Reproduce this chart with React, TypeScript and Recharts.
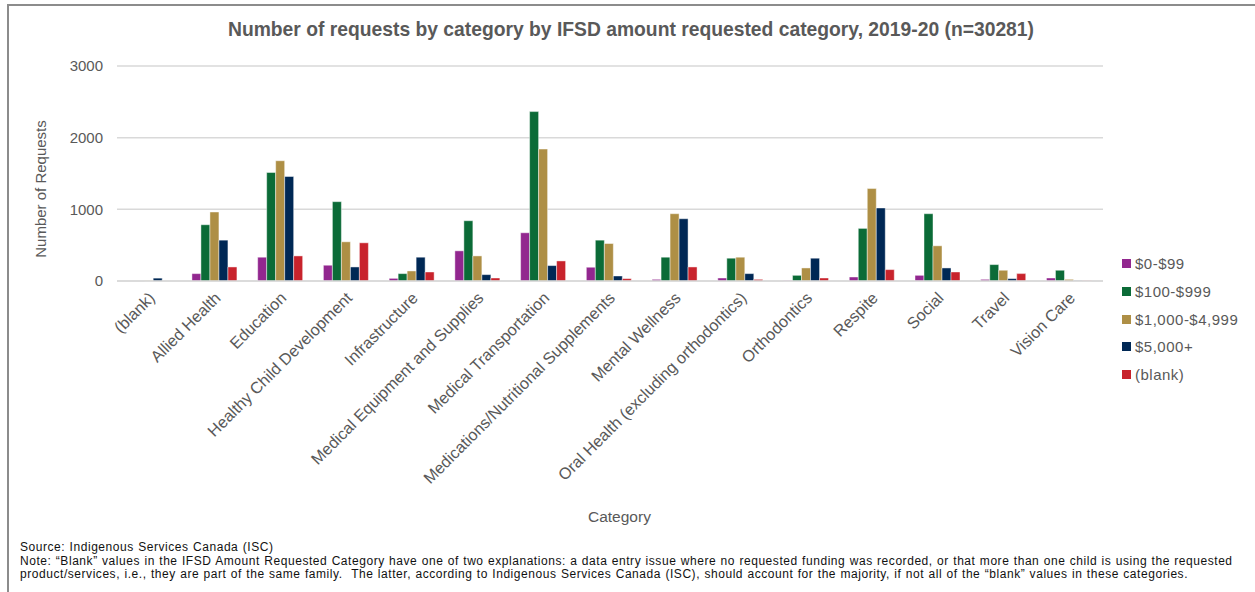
import { BarChart, Bar, XAxis, YAxis, CartesianGrid } from "recharts";

const categories = [
  "(blank)",
  "Allied Health",
  "Education",
  "Healthy Child Development",
  "Infrastructure",
  "Medical Equipment and Supplies",
  "Medical Transportation",
  "Medications/Nutritional Supplements",
  "Mental Wellness",
  "Oral Health (excluding orthodontics)",
  "Orthodontics",
  "Respite",
  "Social",
  "Travel",
  "Vision Care",
];

const amt0to99 = [0, 103, 332, 220, 37, 421, 673, 192, 23, 42, 5, 56, 79, 23, 42];
const amt100to999 = [0, 785, 1514, 1107, 103, 841, 2364, 570, 332, 318, 79, 734, 939, 229, 150];
const amt1000to4999 = [5, 963, 1678, 547, 140, 350, 1841, 523, 939, 332, 182, 1290, 491, 150, 23];
const amt5000plus = [40, 570, 1458, 196, 332, 89, 215, 70, 869, 103, 318, 1019, 182, 33, 5];
const amtBlank = [0, 196, 350, 533, 126, 42, 280, 33, 196, 23, 42, 159, 126, 103, 5];

const yTicks = [0, 1000, 2000, 3000];

const series = [
  { key: "a", name: "$0-$99", color: "#92278F", values: amt0to99 },
  { key: "b", name: "$100-$999", color: "#0B6B37", values: amt100to999 },
  { key: "c", name: "$1,000-$4,999", color: "#AE8F45", values: amt1000to4999 },
  { key: "d", name: "$5,000+", color: "#002855", values: amt5000plus },
  { key: "e", name: "(blank)", color: "#C8232C", values: amtBlank },
];

const data = categories.map((name, i) => {
  const row: any = { name };
  series.forEach((s) => (row[s.key] = s.values[i]));
  return row;
});

const FONT = '"Liberation Sans", Arial, sans-serif';
const GREY = "#595959";

const AngledTick = ({ x, y, payload }: any) => (
  <text
    x={x + 6}
    y={y + 10}
    transform={`rotate(-45 ${x + 6} ${y + 10})`}
    textAnchor="end"
    fontSize={16.2}
    fontFamily={FONT}
    fill={GREY}
  >
    {payload.value}
  </text>
);

export default function App() {
  return (
    <div
      style={{
        position: "absolute",
        left: 0,
        top: 0,
        width: 1255,
        height: 592,
        background: "#fff",
        fontFamily: FONT,
      }}
    >
      <div
        style={{
          position: "absolute",
          left: 7,
          top: 4,
          width: 1246,
          height: 600,
          borderLeft: "2px solid #8c8c8c",
          borderTop: "2px solid #8c8c8c",
          borderRight: "1px solid #d0d0d0",
        }}
      />
      <div
        style={{
          position: "absolute",
          left: 0,
          top: 19,
          width: 1262,
          textAlign: "center",
          fontSize: 19.3,
          fontWeight: "bold",
          color: GREY,
        }}
      >
        Number of requests by category by IFSD amount requested category, 2019-20 (n=30281)
      </div>
      <div
        style={{
          position: "absolute",
          left: 40,
          top: 189,
          transform: "translate(-50%, -50%) rotate(-90deg)",
          whiteSpace: "nowrap",
          fontSize: 15,
          color: GREY,
        }}
      >
        Number of Requests
      </div>
      <div style={{ position: "absolute", left: 0, top: 0 }}>
        <BarChart
          width={1255}
          height={540}
          data={data}
          margin={{ top: 66, right: 152, left: 0, bottom: 0 }}
          barCategoryGap="14%"
          barGap={0}
        >
          <CartesianGrid vertical={false} stroke="#d9d9d9" strokeWidth={1.5} />
          <XAxis
            dataKey="name"
            interval={0}
            height={259}
            axisLine={{ stroke: "#d9d9d9", strokeWidth: 1.5 }}
            tickLine={false}
            tick={<AngledTick />}
          />
          <YAxis
            width={117}
            domain={[0, 3000]}
            ticks={yTicks}
            axisLine={false}
            tickLine={false}
            tickMargin={8}
            tick={{ fontSize: 15, fill: GREY, fontFamily: FONT }}
          />
          {series.map((s) => (
            <Bar
              key={s.key}
              dataKey={s.key}
              name={s.name}
              fill={s.color}
              stroke="#ffffff"
              strokeOpacity={0.6}
              strokeWidth={0.75}
              isAnimationActive={false}
            />
          ))}
        </BarChart>
      </div>
      <div
        style={{
          position: "absolute",
          left: 588,
          top: 508,
          fontSize: 15.5,
          color: GREY,
        }}
      >
        Category
      </div>
      <div style={{ position: "absolute", left: 1122, top: 250 }}>
        {series.map((s) => (
          <div
            key={s.key}
            style={{
              display: "flex",
              alignItems: "center",
              height: 27.7,
              fontSize: 15,
              letterSpacing: 0.5,
              color: GREY,
            }}
          >
            <span
              style={{
                width: 9,
                height: 9,
                background: s.color,
                marginRight: 4,
                display: "inline-block",
              }}
            />
            {s.name}
          </div>
        ))}
      </div>
      <div
        style={{
          position: "absolute",
          left: 20,
          top: 541,
          fontSize: 12,
          letterSpacing: 0.55,
          wordSpacing: 0.5,
          lineHeight: "13.5px",
          color: "#111",
          width: 1235,
          whiteSpace: "nowrap",
        }}
      >
        Source: Indigenous Services Canada (ISC)
        <br />
        Note: “Blank” values in the IFSD Amount Requested Category have one of two explanations: a data entry issue where no requested funding was recorded, or that more than one child is using the requested
        <br />
        product/services, i.e., they are part of the same family.&nbsp; The latter, according to Indigenous Services Canada (ISC), should account for the majority, if not all of the “blank” values in these categories.
      </div>
    </div>
  );
}
